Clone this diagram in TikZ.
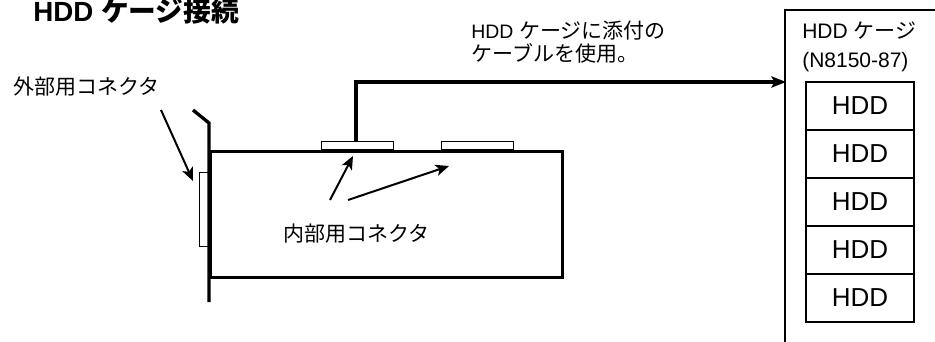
\documentclass[tikz,border=0pt]{standalone}
\usepackage{fontspec}
\setmainfont{Liberation Sans}
\newfontfamily\cjk{Noto Sans CJK JP}
\usetikzlibrary{positioning,arrows.meta}

\tikzset{
    label text/.style={anchor=base west, inner sep=0pt, font=\fontsize{15.75}{18}\selectfont},
    hdd box/.style={draw, line width=1.5pt, outer sep=0pt, minimum width=81pt, minimum height=36pt, inner sep=0pt, font=\fontsize{19.5}{22}\selectfont},
    card conn/.style={draw, line width=1.1pt, fill=white, anchor=north west, inner sep=0pt, minimum width=54pt, minimum height=6pt},
    thick line/.style={line width=2.5pt},
    thin arrow/.style={line width=1.5pt, -{Stealth[length=10pt,width=8.5pt,inset=2.5pt]}},
}

\begin{document}
\begin{tikzpicture}[x=0.75pt, y=-0.75pt]
    \useasboundingbox (0,0) rectangle (935,342);

    \node[anchor=base west, inner sep=0pt, font=\fontsize{20.8}{24}\selectfont\bfseries] (title) at (33,22) {HDD {\cjk ケージ接続}};
    \node[label text] (extlabel) at (13,95) {\cjk 外部用コネクタ};
    \node[label text] (intlabel) at (283,241) {\cjk 内部用コネクタ};
    \node[label text] (cablea) at (471,39) {{\fontsize{14.6}{18}\selectfont HDD} {\cjk ケージに添付の}};
    \node[label text] (cableb) at (471,62) {\cjk ケーブルを使用。};

    % card
    \node[draw, line width=2.5pt, anchor=north west, inner sep=0pt, minimum width=264pt, minimum height=94.5pt] (board) at (209,150) {};
    \node[card conn] (conna) at (321,141) {};
    \node[card conn] (connb) at (441,141) {};
    \node[draw, line width=1.1pt, fill=white, anchor=north west, inner sep=0pt, minimum width=7pt, minimum height=55.5pt] (extconn) at (199,172) {};

    \coordinate (brtip) at (193,110);
    \coordinate (brbend) at (209,123);
    \coordinate (brend) at (209,302);
    \draw[thick line] (brtip) -- (brbend) -- (brend);

    % HDD cage
    \coordinate (cagetr) at (935,10);
    \coordinate (cagetl) at (785,10);
    \coordinate (cagebl) at (785,342);
    \coordinate (cagein) at (786,82);
    \draw[line width=1.1pt] (cagetr) -- (cagetl) -- (cagebl);
    \node[label text] (cagea) at (802,39) {HDD {\cjk ケージ}};
    \node[label text] (cageb) at (802,68) {(N8150-87)};

    \node[hdd box] (hdd1) at (860,106) {HDD};
    \foreach \i [remember=\i as \j (initially 1)] in {2,...,5}
        \node[hdd box, below=0pt of hdd\j] (hdd\i) {HDD};

    % cable
    \coordinate (cablebend) at (356,82);
    \draw[thick line, -{Stealth[length=11pt,width=8.5pt,inset=2.5pt]}] (conna.north -| cablebend) -- (cablebend) -- (cagein);

    % pointers
    \coordinate (extfrom) at (161,110);
    \coordinate (extto) at (193,181);
    \coordinate (intfroma) at (330,200);
    \coordinate (inttoa) at (353,156);
    \coordinate (intfromb) at (348,200);
    \coordinate (inttob) at (449,166);
    \path[thin arrow]
    (extfrom) edge (extto)
    (intfroma) edge (inttoa)
    (intfromb) edge (inttob);
\end{tikzpicture}
\end{document}
